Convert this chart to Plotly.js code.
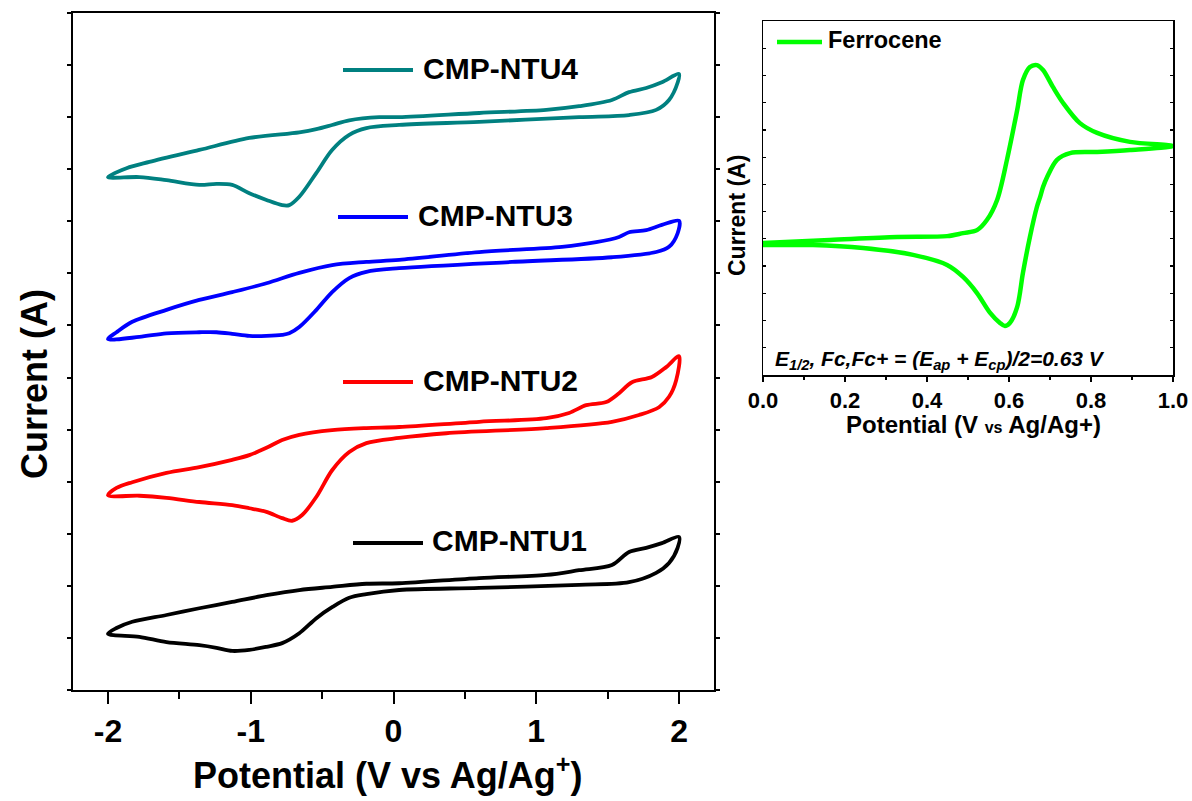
<!DOCTYPE html>
<html>
<head>
<meta charset="utf-8">
<script src="https://cdn.plot.ly/plotly-3.0.1.min.js"></script>
<style>
  html, body { margin: 0; padding: 0; background: #ffffff; }
  #chart { width: 1192px; height: 801px; }
</style>
</head>
<body>
<div id="chart"></div>
<script>
// ---------------- DATA ----------------
// Left panel: cyclic voltammograms (Potential in V vs Ag/Ag+, Current in arbitrary stacked units)
const seriesNames = ["CMP-NTU1", "CMP-NTU2", "CMP-NTU3", "CMP-NTU4"];

const potentialNTU4 = [-2.00,-1.87,-1.71,-1.36,-1.01,-0.66,-0.54,-0.43,-0.31,-0.10,0.04,0.60,1.07,1.30,1.53,1.65,1.77,1.88,2.00,1.99,1.93,1.84,1.65,1.30,0.60,0.04,-0.19,-0.31,-0.43,-0.54,-0.66,-0.73,-0.78,-0.89,-1.01,-1.13,-1.24,-1.36,-1.59,-1.78,-2.00];
const currentNTU4   = [9.85,10.02,10.14,10.37,10.60,10.71,10.77,10.85,10.94,11.00,11.00,11.08,11.14,11.21,11.33,11.48,11.56,11.67,11.83,11.66,11.33,11.14,11.04,11.00,10.91,10.85,10.79,10.66,10.37,9.93,9.47,9.31,9.31,9.41,9.54,9.70,9.72,9.70,9.79,9.85,9.85];

const potentialNTU3 = [-2.00,-1.94,-1.83,-1.59,-1.36,-1.13,-0.89,-0.66,-0.43,-0.19,0.04,0.60,1.18,1.42,1.58,1.65,1.77,1.88,2.00,1.99,1.93,1.84,1.53,0.83,0.04,-0.19,-0.31,-0.43,-0.54,-0.66,-0.73,-0.78,-0.89,-1.01,-1.13,-1.24,-1.36,-1.59,-1.78,-2.00];
const currentNTU3   = [6.74,6.87,7.07,7.30,7.49,7.64,7.81,8.01,8.16,8.22,8.26,8.41,8.51,8.60,8.70,8.79,8.83,8.93,9.01,8.77,8.51,8.41,8.31,8.22,8.10,8.03,7.91,7.64,7.30,6.97,6.85,6.82,6.80,6.80,6.84,6.87,6.87,6.85,6.78,6.74];

const potentialNTU2 = [-2.00,-1.94,-1.83,-1.59,-1.36,-1.13,-1.01,-0.89,-0.78,-0.66,-0.43,-0.19,0.04,0.60,1.07,1.23,1.35,1.49,1.58,1.67,1.81,1.91,2.00,1.98,1.93,1.86,1.72,1.53,1.07,0.37,0.04,-0.19,-0.31,-0.43,-0.54,-0.64,-0.71,-0.78,-0.89,-1.01,-1.13,-1.36,-1.59,-1.78,-2.00];
const currentNTU2   = [3.74,3.88,3.99,4.17,4.28,4.42,4.51,4.65,4.80,4.90,4.99,5.03,5.05,5.15,5.22,5.32,5.47,5.53,5.70,5.91,6.01,6.20,6.41,5.95,5.63,5.43,5.28,5.15,5.03,4.93,4.84,4.74,4.57,4.22,3.71,3.36,3.25,3.30,3.42,3.49,3.55,3.61,3.69,3.73,3.74];

const potentialNTU1 = [-2.00,-1.94,-1.83,-1.59,-1.36,-1.13,-0.89,-0.66,-0.43,-0.19,0.04,0.60,1.07,1.30,1.53,1.65,1.77,1.88,2.00,1.99,1.93,1.84,1.65,1.30,0.60,0.04,-0.19,-0.31,-0.43,-0.54,-0.66,-0.78,-0.89,-1.01,-1.13,-1.24,-1.36,-1.59,-1.78,-2.00];
const currentNTU1   = [1.08,1.19,1.31,1.44,1.57,1.69,1.82,1.92,1.98,2.04,2.05,2.15,2.21,2.30,2.40,2.65,2.73,2.82,2.94,2.73,2.44,2.25,2.07,2.02,1.96,1.92,1.84,1.77,1.59,1.38,1.09,0.90,0.83,0.77,0.75,0.81,0.86,0.92,1.02,1.08];

// Right panel: ferrocene reference CV
const ferroceneName = "Ferrocene";
const potentialFc = [0,0.163,0.327,0.449,0.488,0.522,0.546,0.571,0.595,0.620,0.634,0.651,0.668,0.683,0.707,0.732,0.773,0.815,0.895,1.0,0.895,0.815,0.749,0.717,0.693,0.683,0.676,0.668,0.651,0.634,0.620,0.602,0.590,0.578,0.554,0.522,0.488,0.449,0.366,0.244,0.122,0];
const currentFc   = [4.85,4.96,5.07,5.10,5.21,5.32,5.69,6.43,7.90,9.73,10.83,11.31,11.38,11.20,10.58,9.99,9.25,8.89,8.56,8.41,8.26,8.19,8.15,7.90,7.27,6.90,6.54,6.17,5.07,3.75,2.50,1.91,1.80,1.91,2.28,3.01,3.60,4.04,4.41,4.66,4.77,4.77];

const leftTickVals = [-2, -1, 0, 1, 2];
const leftTickText = ["-2", "-1", "0", "1", "2"];
const rightTickVals = [0, 0.2, 0.4, 0.6, 0.8, 1.0];
const rightTickText = ["0.0", "0.2", "0.4", "0.6", "0.8", "1.0"];

// ---------------- STYLE / LAYOUT ----------------
const W = 1192, H = 801;
const PX = p => p / W;
const PY = p => 1 - p / H;
const FONT = "Liberation Sans, Arial, Helvetica, sans-serif";

const colors = { "CMP-NTU1": "#000000", "CMP-NTU2": "#ff0000", "CMP-NTU3": "#0000ff", "CMP-NTU4": "#008080" };
const leftSeries = {
  "CMP-NTU1": [potentialNTU1, currentNTU1],
  "CMP-NTU2": [potentialNTU2, currentNTU2],
  "CMP-NTU3": [potentialNTU3, currentNTU3],
  "CMP-NTU4": [potentialNTU4, currentNTU4]
};

const traces = seriesNames.map(n => ({
  type: "scatter", mode: "lines", name: n,
  x: leftSeries[n][0], y: leftSeries[n][1],
  xaxis: "x", yaxis: "y",
  line: { color: colors[n], width: 3.8, shape: "spline", smoothing: 0.9 },
  showlegend: false, hoverinfo: "skip"
}));
traces.push({
  type: "scatter", mode: "lines", name: ferroceneName,
  x: potentialFc, y: currentFc, xaxis: "x2", yaxis: "y2",
  line: { color: "#00ff00", width: 4.5, shape: "spline", smoothing: 0.9 },
  showlegend: false, hoverinfo: "skip"
});

// legend-like labels inside the left panel
const labelPos = {
  "CMP-NTU4": { x0: 343, x1: 413, y: 70, tx: 421, ty: 69 },
  "CMP-NTU3": { x0: 338, x1: 408, y: 217, tx: 416, ty: 215 },
  "CMP-NTU2": { x0: 343, x1: 413, y: 382, tx: 421, ty: 380 },
  "CMP-NTU1": { x0: 353, x1: 423, y: 543, tx: 430, ty: 540 }
};

const shapes = [];
const annotations = [];
seriesNames.forEach(n => {
  const p = labelPos[n];
  shapes.push({ type: "line", xref: "paper", yref: "paper", x0: PX(p.x0), x1: PX(p.x1), y0: PY(p.y), y1: PY(p.y),
    line: { color: colors[n], width: 4 } });
  annotations.push({ xref: "paper", yref: "paper", x: PX(p.tx), y: PY(p.ty), xanchor: "left", yanchor: "middle",
    text: "<b>" + n + "</b>", showarrow: false, font: { family: FONT, size: 30, color: "#000" } });
});
shapes.push({ type: "line", xref: "paper", yref: "paper", x0: PX(777), x1: PX(822), y0: PY(42), y1: PY(42),
  line: { color: "#00ff00", width: 4.5 } });
annotations.push({ xref: "paper", yref: "paper", x: PX(826), y: PY(40), xanchor: "left", yanchor: "middle",
  text: "<b>" + ferroceneName + "</b>", showarrow: false, font: { family: FONT, size: 23.5, color: "#000" } });
annotations.push({ xref: "paper", yref: "paper", x: PX(773), y: PY(360), xanchor: "left", yanchor: "middle",
  text: "<b><i>E<sub>1/2</sub>, Fc,Fc+ = (E<sub>ap</sub> + E<sub>cp</sub>)/2=0.63 V</i></b>", showarrow: false,
  font: { family: FONT, size: 21, color: "#000" } });

// axis titles
annotations.push({ xref: "paper", yref: "paper", x: PX(388), y: PY(773), xanchor: "center", yanchor: "middle",
  text: "<b>Potential (V vs Ag/Ag<sup>+</sup>)</b>", showarrow: false, font: { family: FONT, size: 36, color: "#000" } });
annotations.push({ xref: "paper", yref: "paper", x: PX(34), y: PY(384), xanchor: "center", yanchor: "middle", textangle: -90,
  text: "<b>Current (A)</b>", showarrow: false, font: { family: FONT, size: 36, color: "#000" } });
annotations.push({ xref: "paper", yref: "paper", x: PX(973), y: PY(425), xanchor: "center", yanchor: "middle",
  text: "<b>Potential (V <span style=\"font-size:16px\">vs</span> Ag/Ag+)</b>", showarrow: false,
  font: { family: FONT, size: 24, color: "#000" } });
annotations.push({ xref: "paper", yref: "paper", x: PX(737), y: PY(216), xanchor: "center", yanchor: "middle", textangle: -90,
  text: "<b>Current (A)</b>", showarrow: false, font: { family: FONT, size: 23, color: "#000" } });

const layout = {
  width: W, height: H,
  margin: { l: 0, r: 0, t: 0, b: 0, pad: 0 },
  paper_bgcolor: "#ffffff", plot_bgcolor: "#ffffff",
  showlegend: false,
  xaxis: {
    domain: [PX(73), PX(714)], range: [-2.245, 2.245], anchor: "y",
    tickmode: "array", tickvals: leftTickVals, ticktext: leftTickText,
    ticks: "outside", ticklen: 12, tickwidth: 2, tickcolor: "#000",
    minor: { ticks: "outside", ticklen: 7, tickwidth: 2, tickcolor: "#000", tickmode: "array", tickvals: [-1.5, -0.5, 0.5, 1.5] },
    showline: true, linewidth: 2, linecolor: "#000", mirror: true,
    showgrid: false, zeroline: false,
    tickfont: { family: FONT, size: 32, color: "#000", weight: "bold" }
  },
  yaxis: {
    domain: [PY(690), PY(13)], range: [0, 13], anchor: "x",
    tickmode: "linear", tick0: 0, dtick: 1,
    ticks: "outside", ticklen: 4, tickwidth: 2, tickcolor: "#000",
    showticklabels: false,
    showline: true, linewidth: 2, linecolor: "#000", mirror: "ticks",
    showgrid: false, zeroline: false
  },
  xaxis2: {
    domain: [PX(763), PX(1173)], range: [0, 1], anchor: "y2",
    tickmode: "array", tickvals: rightTickVals, ticktext: rightTickText,
    ticks: "outside", ticklen: 5, tickwidth: 1.5, tickcolor: "#000",
    minor: { ticks: "outside", ticklen: 3, tickwidth: 1.5, tickcolor: "#000", tickmode: "array", tickvals: [0.1, 0.3, 0.5, 0.7, 0.9] },
    showline: true, linewidth: 1.5, linecolor: "#000", mirror: true,
    showgrid: false, zeroline: false,
    tickfont: { family: FONT, size: 22, color: "#000", weight: "bold" }
  },
  yaxis2: {
    domain: [PY(375), PY(21)], range: [0, 13], anchor: "x2",
    tickmode: "linear", tick0: 0, dtick: 1,
    ticks: "inside", ticklen: 3, tickwidth: 1.2, tickcolor: "#000",
    showticklabels: false,
    showline: true, linewidth: 1.5, linecolor: "#000", mirror: "ticks",
    showgrid: false, zeroline: false
  },
  shapes: shapes,
  annotations: annotations
};

Plotly.newPlot("chart", traces, layout, { staticPlot: true, displayModeBar: false });
</script>
</body>
</html>
